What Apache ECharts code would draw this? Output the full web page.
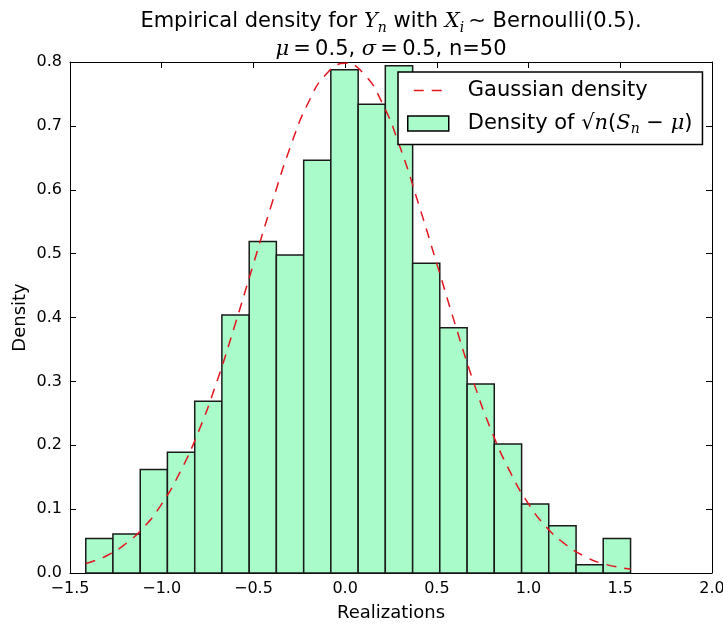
<!DOCTYPE html>
<html>
<head>
<meta charset="utf-8">
<script src="https://cdn.jsdelivr.net/npm/echarts@6/dist/echarts.min.js"></script>
<style>
  html, body { margin: 0; padding: 0; background: #fff; }
  #main { width: 723px; height: 625px; }
</style>
</head>
<body>
<div id="main"></div>
<script>
// histogram bin edges (21 edges -> 20 bins)
var binEdges = [-1.414, -1.266, -1.117, -0.969, -0.820, -0.672, -0.523, -0.375, -0.226, -0.078,
  0.071, 0.219, 0.368, 0.516, 0.665, 0.813, 0.962, 1.110, 1.259, 1.407, 1.556];
// bar heights (density)
var binDensity = [0.054, 0.061, 0.162, 0.189, 0.269, 0.404, 0.519, 0.498, 0.646, 0.788,
  0.734, 0.794, 0.485, 0.384, 0.296, 0.202, 0.108, 0.074, 0.013, 0.054];
// gaussian curve
var curveX = [-1.414, -1.3, -1.2, -1.1, -1.0, -0.9, -0.8, -0.7, -0.6, -0.5, -0.4, -0.3, -0.2, -0.1, 0.0,
  0.1, 0.2, 0.3, 0.4, 0.5, 0.6, 0.7, 0.8, 0.9, 1.0, 1.1, 1.2, 1.3, 1.4, 1.556];
var curveY = [0.015, 0.027, 0.045, 0.071, 0.108, 0.158, 0.221, 0.299, 0.389, 0.484, 0.578, 0.666, 0.737, 0.782, 0.798,
  0.782, 0.737, 0.666, 0.578, 0.484, 0.389, 0.299, 0.221, 0.158, 0.108, 0.071, 0.045, 0.027, 0.015, 0.006];

var xTicks = { min: -1.5, max: 2.0, step: 0.5 };
var yTicks = { min: 0, max: 0.8, step: 0.1 };

var histData = binDensity.map(function (h, i) {
  return [binEdges[i], binEdges[i + 1], h];
});
var curveData = curveX.map(function (x, i) { return [x, curveY[i]]; });

var FONT = 'DejaVu Sans';
var RED = '#e3161e';
var GREEN = '#a9fbc9';
var chart = echarts.init(document.getElementById('main'), null, { renderer: 'canvas' });

function fmt(v) {
  return v.toFixed(1).replace('-', '\u2212');
}

var mathRich = {
  i: { fontFamily: 'DejaVu Serif', fontStyle: 'italic', fontSize: 21, color: '#000' },
  s: { fontFamily: 'DejaVu Serif', fontStyle: 'italic', fontSize: 14, color: '#000', padding: [12, 0, 0, 0] },
  t: { fontFamily: FONT, fontSize: 21, color: '#000' }
};

function axisCommon(extra) {
  var o = {
    axisLine: { show: true, onZero: false, lineStyle: { color: '#000', width: 1 } },
    axisTick: { show: true, inside: true, length: 6, lineStyle: { color: '#000', width: 1 } },
    splitLine: { show: false }
  };
  for (var k in extra) o[k] = extra[k];
  return o;
}

// dashed legend sample: two dashes inside a 41x15 box
var dashIcon = 'path://M0,0 M41,15 M6,6.8 L16,6.8 L16,8.3 L6,8.3 Z M24,6.8 L34,6.8 L34,8.3 L24,8.3 Z';

chart.setOption({
  animation: false,
  backgroundColor: '#fff',
  title: {
    left: 386,
    top: 4,
    textAlign: 'center',
    itemGap: 7,
    text: '{t|Empirical density for }{i|Y}{s|n}{t| with }{i|X}{s|i}{t|\u2009\u223C Bernoulli(0.5).}',
    subtext: '{i|\u03BC}{t|\u2009=\u20090.5, }{i|\u03C3}{t|\u2009=\u20090.5, n=50}',
    textStyle: { fontFamily: FONT, fontSize: 21, fontWeight: 'normal', color: '#000', rich: mathRich },
    subtextStyle: { fontFamily: FONT, fontSize: 21, color: '#000', rich: mathRich }
  },
  legend: {
    orient: 'vertical',
    left: 398,
    top: 72,
    padding: [8, 10, 8, 9],
    itemGap: 12,
    itemWidth: 41,
    itemHeight: 15,
    backgroundColor: '#fff',
    borderColor: '#000',
    borderWidth: 1.5,
    borderRadius: 0,
    textStyle: { fontFamily: FONT, fontSize: 21, color: '#000', padding: [0, 0, 0, 14], rich: mathRich },
    formatter: function (name) {
      if (name === 'Gaussian density') return '{t|Gaussian density}';
      return '{t|Density of }{t|\u221A}{i|n}{t|(}{i|S}{s|n}{t| \u2212 }{i|\u03BC}{t|)}';
    },
    data: [
      { name: 'Gaussian density', icon: dashIcon, itemStyle: { color: RED, borderWidth: 0 } },
      { name: 'Density of sqrt(n)(Sn - mu)', icon: 'rect', itemStyle: { color: GREEN, borderColor: '#000', borderWidth: 1.5 } }
    ]
  },
  grid: { left: 70, right: 11, top: 62, bottom: 52, outerBoundsMode: 'none', containLabel: false },
  xAxis: [
    axisCommon({
      type: 'value', position: 'bottom',
      min: xTicks.min, max: xTicks.max, interval: xTicks.step,
      name: 'Realizations', nameLocation: 'middle', nameGap: 31,
      nameTextStyle: { fontFamily: FONT, fontSize: 18, color: '#000' },
      axisLabel: { fontFamily: FONT, fontSize: 16, color: '#000', margin: 8, formatter: fmt }
    }),
    axisCommon({
      type: 'value', position: 'top',
      min: xTicks.min, max: xTicks.max, interval: xTicks.step,
      axisLabel: { show: false }
    })
  ],
  yAxis: [
    axisCommon({
      type: 'value', position: 'left',
      min: yTicks.min, max: yTicks.max, interval: yTicks.step,
      name: 'Density', nameLocation: 'middle', nameGap: 41, nameMoveOverlap: false,
      nameTextStyle: { fontFamily: FONT, fontSize: 18, color: '#000' },
      axisLabel: { fontFamily: FONT, fontSize: 16, color: '#000', margin: 8, formatter: fmt }
    }),
    axisCommon({
      type: 'value', position: 'right',
      min: yTicks.min, max: yTicks.max, interval: yTicks.step,
      axisLabel: { show: false }
    })
  ],
  series: [
    {
      name: 'Density of sqrt(n)(Sn - mu)',
      type: 'custom',
      xAxisIndex: 0,
      yAxisIndex: 0,
      encode: { x: [0, 1], y: 2 },
      data: histData,
      z: 2,
      renderItem: function (params, api) {
        var p0 = api.coord([api.value(0), api.value(2)]);
        var p1 = api.coord([api.value(1), 0]);
        return {
          type: 'rect',
          shape: { x: p0[0], y: p0[1], width: p1[0] - p0[0], height: p1[1] - p0[1] },
          style: { fill: GREEN, stroke: '#1a1a1a', lineWidth: 1.5 }
        };
      }
    },
    {
      name: 'Gaussian density',
      type: 'line',
      xAxisIndex: 0,
      yAxisIndex: 0,
      data: curveData,
      smooth: true,
      symbol: 'none',
      z: 3,
      lineStyle: { color: RED, width: 1.5, type: [10, 8] },
      itemStyle: { color: RED }
    }
  ]
});
</script>
</body>
</html>
